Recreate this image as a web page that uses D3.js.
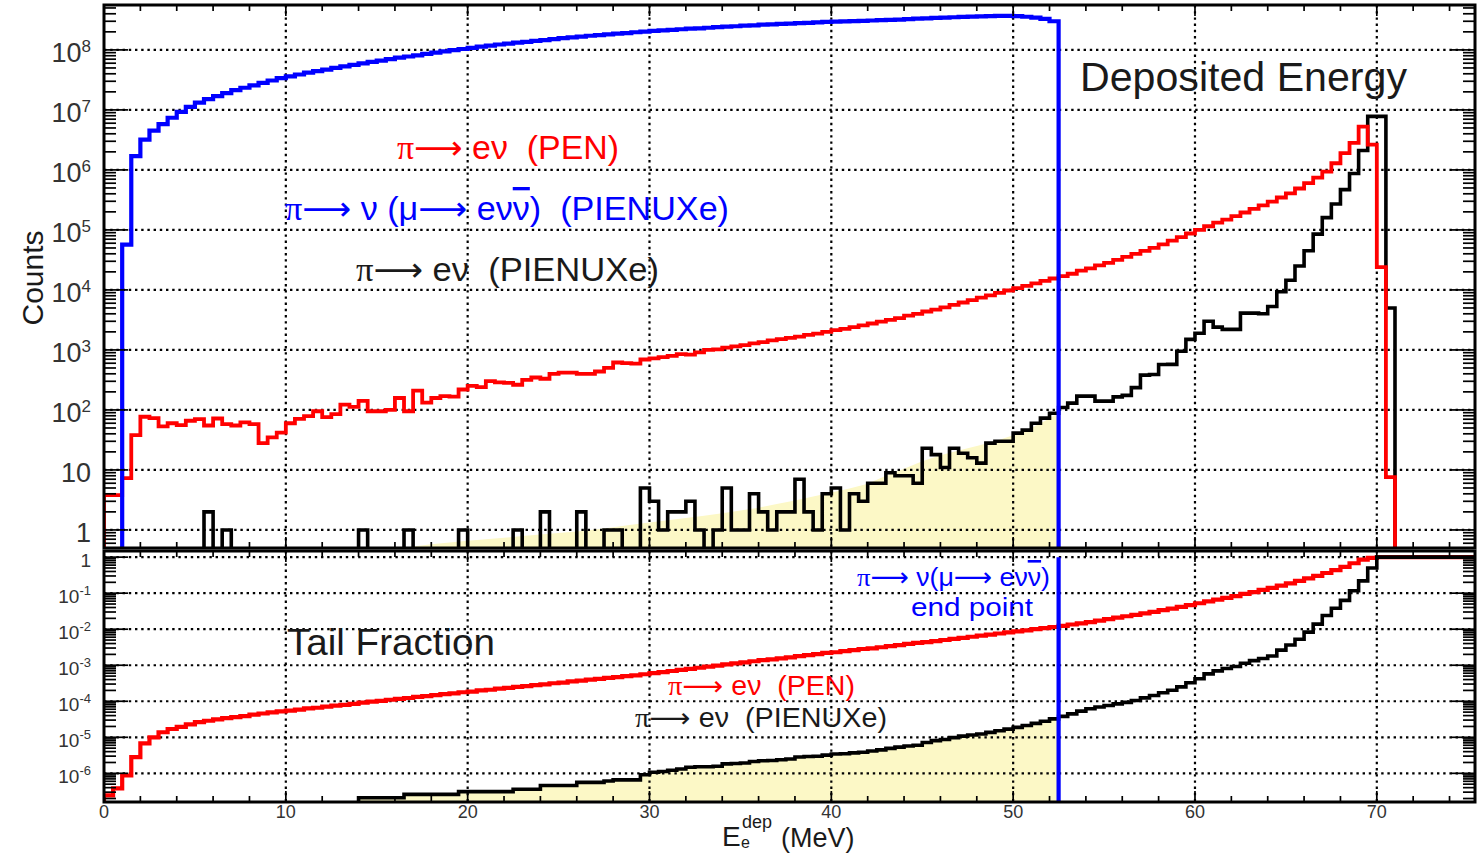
<!DOCTYPE html>
<html>
<head>
<meta charset="utf-8">
<script src="https://cdn.jsdelivr.net/npm/d3@7"></script>
<style>
  html, body { margin: 0; padding: 0; background: #fff; }
  svg { display: block; font-family: "Liberation Sans", Arial, Helvetica, sans-serif; }
  text { white-space: pre; }
</style>
</head>
<body>
<svg id="chart" width="1481" height="853"></svg>
<script>
// ---------------------------------------------------------------------------
// Data: deposited-energy histograms, 0.5 MeV bins starting at 0 MeV
// ---------------------------------------------------------------------------
const binWidth = 0.5;           // MeV
const energyMax = 75.4;         // MeV, right end of the axis
const muonEndPoint = 52.5;      // MeV, pi -> nu (mu -> e nu nubar) end point

// pi -> nu (mu -> e nu nubar), PIENUXe
const muDecayCounts = [
  0, 0, 5.7e4, 1.7e6, 3.2e6, 4.5e6, 5.8e6, 7.4e6, 9.3e6, 1.12e7,
  1.32e7, 1.51e7, 1.70e7, 1.91e7, 2.14e7, 2.34e7, 2.57e7, 2.82e7, 3.09e7, 3.39e7,
  3.63e7, 3.89e7, 4.17e7, 4.42e7, 4.68e7, 5.01e7, 5.31e7, 5.62e7, 5.96e7, 6.31e7,
  6.61e7, 7.0e7, 7.41e7, 7.76e7, 8.13e7, 8.61e7, 9.02e7, 9.44e7, 9.89e7, 1.035e8,
  1.08e8, 1.135e8, 1.175e8, 1.23e8, 1.27e8, 1.32e8, 1.36e8, 1.41e8, 1.46e8, 1.51e8,
  1.57e8, 1.62e8, 1.66e8, 1.72e8, 1.76e8, 1.82e8, 1.86e8, 1.91e8, 1.97e8, 2.02e8,
  2.07e8, 2.11e8, 2.16e8, 2.21e8, 2.26e8, 2.29e8, 2.34e8, 2.40e8, 2.45e8, 2.48e8,
  2.54e8, 2.57e8, 2.63e8, 2.66e8, 2.72e8, 2.75e8, 2.79e8, 2.82e8, 2.88e8, 2.92e8,
  2.95e8, 2.99e8, 3.02e8, 3.05e8, 3.09e8, 3.13e8, 3.16e8, 3.20e8, 3.26e8, 3.31e8,
  3.36e8, 3.41e8, 3.46e8, 3.50e8, 3.54e8, 3.58e8, 3.62e8, 3.66e8, 3.70e8, 3.70e8,
  3.66e8, 3.57e8, 3.46e8, 3.30e8, 3.0e8
];

// pi -> e nu, PEN
const penCounts = [
  3.8, 3.8, 7.3, 38, 77, 73, 53, 60, 56, 66,
  70, 55, 72, 58, 55, 62, 58, 28, 35, 42,
  60, 71, 79, 95, 76, 85, 123, 112, 141, 95,
  95, 100, 158, 95, 209, 132, 158, 170, 166, 219,
  251, 240, 302, 288, 282, 263, 316, 347, 331, 398,
  417, 417, 398, 398, 437, 501, 617, 603, 589, 692,
  724, 759, 794, 851, 832, 912, 1000, 1023, 1096, 1148,
  1202, 1288, 1349, 1445, 1514, 1585, 1660, 1778, 1862, 1995,
  2138, 2239, 2399, 2570, 2754, 2951, 3162, 3388, 3715, 3981,
  4365, 4677, 5129, 5623, 6166, 6761, 7413, 8128, 8913, 9772,
  1.07e4, 1.17e4, 1.29e4, 1.41e4, 1.55e4, 1.70e4, 1.86e4, 2.09e4, 2.29e4, 2.57e4,
  2.82e4, 3.16e4, 3.55e4, 3.98e4, 4.47e4, 5.01e4, 5.75e4, 6.61e4, 7.59e4, 8.71e4,
  1.0e5, 1.15e5, 1.32e5, 1.48e5, 1.70e5, 1.95e5, 2.24e5, 2.57e5, 2.95e5, 3.47e5,
  4.07e5, 4.90e5, 6.03e5, 7.41e5, 9.33e5, 1.29e6, 1.91e6, 2.82e6, 5.25e6, 2.63e6,
  2.4e4, 7.6
];

// pi -> e nu, PIENUXe
const pienuCounts = [
  0, 0, 0, 0, 0, 0, 0, 0, 0, 0,
  0, 2, 0, 1, 0, 0, 0, 0, 0, 0,
  0, 0, 0, 0, 0, 0, 0, 0, 1, 0,
  0, 0, 0, 1, 0, 0, 0, 0, 0, 1,
  0, 0, 0, 0, 0, 1, 0, 0, 2, 0,
  0, 0, 2, 0, 0, 1, 1, 0, 0, 5,
  3, 1, 2, 2, 3, 1, 0, 1, 5, 1,
  1, 4, 2, 1, 2, 2, 7, 2, 1, 4,
  5, 1, 4, 3, 6, 6, 9, 8, 8, 6,
  23, 18, 11, 23, 19, 16, 13, 28, 30, 30,
  41, 46, 60, 73, 88, 110, 130, 170, 170, 140,
  140, 165, 175, 235, 380, 390, 570, 575, 950, 1500,
  1900, 3000, 2400, 2200, 2200, 4100, 4100, 4000, 5300, 9300,
  1.45e4, 2.5e4, 4.5e4, 8.5e4, 1.6e5, 2.7e5, 4.7e5, 8.7e5, 2.1e6, 7.8e6,
  7.8e6, 5000
];

// Shaded low-energy tail under the PIENUXe spectrum (energy, counts)
const tailShadeEnergy = [16, 17, 18, 19, 20, 21, 22, 23, 24, 25, 26, 27, 28, 29, 30,
  31, 32, 33, 34, 35, 36, 37, 38, 39, 40, 41, 42, 43, 44, 45, 46, 47, 48, 49, 50, 51, 52, 52.5];
const tailShadeCounts = [0.45, 0.53, 0.58, 0.62, 0.66, 0.70, 0.74, 0.79, 0.84, 0.89, 0.94, 1.02, 1.11, 1.22, 1.33,
  1.45, 1.58, 1.73, 1.9, 2.1, 2.35, 2.7, 3.1, 3.6, 4.2, 4.9, 5.9, 8.0, 10.5, 14, 17.5, 21, 25, 30, 38, 50, 72, 90];

// Tail fraction (fraction of events below each energy bin)
const penTailFraction = [
  2.45e-7, 3.8e-7, 8.7e-7, 2.8e-6, 6.8e-6, 1.0e-5, 1.38e-5, 1.7e-5, 1.95e-5, 2.29e-5,
  2.63e-5, 2.88e-5, 3.16e-5, 3.39e-5, 3.63e-5, 3.89e-5, 4.27e-5, 4.57e-5, 4.9e-5, 5.25e-5,
  5.5e-5, 5.89e-5, 6.31e-5, 6.61e-5, 7.08e-5, 7.59e-5, 7.94e-5, 8.51e-5, 9.12e-5, 9.77e-5,
  1.02e-4, 1.10e-4, 1.17e-4, 1.23e-4, 1.32e-4, 1.38e-4, 1.48e-4, 1.58e-4, 1.66e-4, 1.78e-4,
  1.86e-4, 2.0e-4, 2.09e-4, 2.24e-4, 2.34e-4, 2.51e-4, 2.63e-4, 2.82e-4, 2.95e-4, 3.16e-4,
  3.31e-4, 3.55e-4, 3.72e-4, 3.98e-4, 4.17e-4, 4.47e-4, 4.68e-4, 5.01e-4, 5.25e-4, 5.62e-4,
  6.03e-4, 6.46e-4, 6.92e-4, 7.41e-4, 7.94e-4, 8.51e-4, 9.12e-4, 9.77e-4, 1.05e-3, 1.12e-3,
  1.2e-3, 1.29e-3, 1.38e-3, 1.45e-3, 1.55e-3, 1.66e-3, 1.78e-3, 1.91e-3, 2.04e-3, 2.19e-3,
  2.29e-3, 2.45e-3, 2.63e-3, 2.82e-3, 2.95e-3, 3.16e-3, 3.39e-3, 3.63e-3, 3.89e-3, 4.17e-3,
  4.37e-3, 4.68e-3, 5.01e-3, 5.37e-3, 5.75e-3, 6.17e-3, 6.61e-3, 7.08e-3, 7.59e-3, 8.13e-3,
  8.71e-3, 9.33e-3, 1.0e-2, 1.07e-2, 1.15e-2, 1.23e-2, 1.35e-2, 1.45e-2, 1.58e-2, 1.74e-2,
  1.91e-2, 2.09e-2, 2.29e-2, 2.51e-2, 2.75e-2, 3.02e-2, 3.39e-2, 3.72e-2, 4.17e-2, 4.68e-2,
  5.25e-2, 5.89e-2, 6.61e-2, 7.41e-2, 8.32e-2, 9.55e-2, 0.107, 0.123, 0.141, 0.162,
  0.186, 0.219, 0.257, 0.302, 0.363, 0.437, 0.537, 0.676, 0.851, 0.955,
  1, 1, 1, 1, 1, 1, 1, 1, 1, 1, 1
];

const pienuTailFraction = [
  0, 0, 0, 0, 0, 0, 0, 0, 0, 0,
  0, 1.0e-7, 1.0e-7, 1.5e-7, 1.5e-7, 1.5e-7, 1.5e-7, 1.5e-7, 1.5e-7, 1.5e-7,
  1.5e-7, 1.5e-7, 1.5e-7, 1.5e-7, 1.5e-7, 1.5e-7, 1.5e-7, 1.5e-7, 2.1e-7, 2.1e-7,
  2.1e-7, 2.1e-7, 2.1e-7, 2.6e-7, 2.6e-7, 2.6e-7, 2.6e-7, 2.6e-7, 2.6e-7, 3.1e-7,
  3.1e-7, 3.1e-7, 3.1e-7, 3.1e-7, 3.1e-7, 3.6e-7, 3.6e-7, 3.6e-7, 4.6e-7, 4.6e-7,
  4.6e-7, 4.6e-7, 5.6e-7, 5.6e-7, 5.6e-7, 6.1e-7, 6.6e-7, 6.6e-7, 6.6e-7, 9.1e-7,
  1.07e-6, 1.12e-6, 1.22e-6, 1.32e-6, 1.47e-6, 1.52e-6, 1.52e-6, 1.57e-6, 1.83e-6, 1.88e-6,
  1.93e-6, 2.13e-6, 2.23e-6, 2.28e-6, 2.39e-6, 2.49e-6, 2.84e-6, 2.94e-6, 2.99e-6, 3.2e-6,
  3.45e-6, 3.5e-6, 3.7e-6, 3.86e-6, 4.16e-6, 4.47e-6, 4.92e-6, 5.33e-6, 5.74e-6, 6.04e-6,
  7.2e-6, 8.1e-6, 8.7e-6, 9.8e-6, 1.08e-5, 1.16e-5, 1.23e-5, 1.37e-5, 1.52e-5, 1.68e-5,
  1.89e-5, 2.12e-5, 2.43e-5, 2.8e-5, 3.25e-5, 3.81e-5, 4.47e-5, 5.33e-5, 6.2e-5, 6.9e-5,
  7.6e-5, 8.45e-5, 9.3e-5, 1.05e-4, 1.24e-4, 1.44e-4, 1.73e-4, 2.02e-4, 2.5e-4, 3.26e-4,
  4.23e-4, 5.75e-4, 6.97e-4, 8.1e-4, 9.2e-4, 1.13e-3, 1.34e-3, 1.54e-3, 1.81e-3, 2.63e-3,
  3.63e-3, 5.25e-3, 8.3e-3, 1.38e-2, 2.4e-2, 3.8e-2, 6.3e-2, 0.117, 0.219, 0.5,
  1, 1, 1, 1, 1, 1, 1, 1, 1, 1, 1
];

// Axis ticks and labels
const energyTickLabels = [0, 10, 20, 30, 40, 50, 60, 70];
const countTickExponents = [0, 1, 2, 3, 4, 5, 6, 7, 8];
const fractionTickExponents = [0, -1, -2, -3, -4, -5, -6];

// ---------------------------------------------------------------------------
// Layout & scales
// ---------------------------------------------------------------------------
const plotL = 104, plotR = 1475;
const topP = { y0: 5, y1: 548 };
const botP = { y0: 551, y1: 802 };

const x = d3.scaleLinear().domain([0, energyMax]).range([plotL, plotR]);
const yTop = d3.scaleLog().domain([0.5, 5.6e8]).range([topP.y1, topP.y0]);
const yBot = d3.scaleLog().domain([1.6e-7, 1.48]).range([botP.y1, botP.y0]);

const COL = { pen: "#ff0000", mu: "#0000ff", pienu: "#000000", shade: "#fcf8c6", text: "#1a1a1a", tick: "#333" };

const svg = d3.select("#chart");
svg.append("rect").attr("width", 1481).attr("height", 853).attr("fill", "#fff");

const defs = svg.append("defs");
[["clipTop", topP], ["clipBot", botP]].forEach(([id, p]) => {
  defs.append("clipPath").attr("id", id)
    .append("rect").attr("x", plotL).attr("y", p.y0)
    .attr("width", plotR - plotL).attr("height", p.y1 - p.y0);
});

// step outline of a binned histogram; empty bins sit on the floor value
function stepPoints(values, floorV) {
  const pts = [[0, floorV]];
  values.forEach((v, i) => {
    const lo = i * binWidth, hi = lo + binWidth, vv = v > 0 ? v : floorV;
    pts.push([lo, vv], [hi, vv]);
  });
  pts.push([values.length * binWidth, floorV]);
  return pts;
}

function drawGrid(g, yScale, yDecades, p) {
  const grid = g.append("g").attr("stroke", "#000").attr("stroke-width", 2.2)
    .attr("stroke-dasharray", "2.4,3.8").attr("fill", "none");
  energyTickLabels.filter(e => e > 0).forEach(e => {
    grid.append("line").attr("x1", x(e)).attr("x2", x(e)).attr("y1", p.y0).attr("y2", p.y1);
  });
  yDecades.forEach(d => {
    const yy = yScale(Math.pow(10, d));
    grid.append("line").attr("x1", plotL).attr("x2", plotR).attr("y1", yy).attr("y2", yy);
  });
}

function histLine(g, values, yScale, floorV, color, width) {
  const line = d3.line().x(d => x(d[0])).y(d => yScale(d[1]));
  g.append("path").attr("d", line(stepPoints(values, floorV)))
    .attr("fill", "none").attr("stroke", color).attr("stroke-width", width)
    .attr("stroke-linejoin", "miter").attr("stroke-linecap", "butt");
}

// ---------------------------------------------------------------------------
// Upper panel: deposited energy
// ---------------------------------------------------------------------------
const gTop = svg.append("g").attr("clip-path", "url(#clipTop)");

gTop.append("path")
  .datum(tailShadeEnergy.map((e, i) => [e, tailShadeCounts[i]]))
  .attr("d", d3.area().x(d => x(d[0])).y0(topP.y1 + 5).y1(d => yTop(d[1])))
  .attr("fill", COL.shade);

drawGrid(gTop, yTop, countTickExponents, topP);

histLine(gTop, pienuCounts, yTop, 0.2, COL.pienu, 3.6);
histLine(gTop, penCounts, yTop, 0.2, COL.pen, 3.8);
histLine(gTop, muDecayCounts, yTop, 0.2, COL.mu, 4.2);

// ---------------------------------------------------------------------------
// Lower panel: tail fraction
// ---------------------------------------------------------------------------
const gBot = svg.append("g").attr("clip-path", "url(#clipBot)");
const shadeBins = Math.round(muonEndPoint / binWidth);
gBot.append("path")
  .datum(stepPoints(pienuTailFraction.slice(0, shadeBins), 1e-9))
  .attr("d", d3.area().x(d => x(d[0])).y0(botP.y1 + 5).y1(d => yBot(d[1])))
  .attr("fill", COL.shade);

drawGrid(gBot, yBot, fractionTickExponents, botP);

histLine(gBot, penTailFraction, yBot, 1e-9, COL.pen, 4.2);
histLine(gBot, pienuTailFraction, yBot, 1e-9, COL.pienu, 3.6);

gBot.append("line")
  .attr("x1", x(muonEndPoint)).attr("x2", x(muonEndPoint))
  .attr("y1", yBot(1)).attr("y2", botP.y1)
  .attr("stroke", COL.mu).attr("stroke-width", 4.2);

// ---------------------------------------------------------------------------
// Frames and ticks
// ---------------------------------------------------------------------------
const axes = svg.append("g").attr("stroke", "#000").attr("fill", "none");

function logTicks(yScale) {
  const [lo, hi] = yScale.domain();
  for (let d = Math.floor(Math.log10(lo)); d <= Math.ceil(Math.log10(hi)); d++) {
    for (let k = 1; k <= 9; k++) {
      const v = k * Math.pow(10, d);
      if (v < lo || v > hi) continue;
      const yy = yScale(v), len = k === 1 ? 24 : 12;
      axes.append("line").attr("x1", plotL).attr("x2", plotL + len).attr("y1", yy).attr("y2", yy).attr("stroke-width", 1.7);
      axes.append("line").attr("x1", plotR).attr("x2", plotR - len).attr("y1", yy).attr("y2", yy).attr("stroke-width", 1.7);
    }
  }
}
function energyTicks(p) {
  for (let e = 0; e <= energyMax; e += 2) {
    const xx = x(e), len = e % 10 === 0 ? 11 : 6;
    axes.append("line").attr("x1", xx).attr("x2", xx).attr("y1", p.y1).attr("y2", p.y1 - len).attr("stroke-width", 1.7);
    axes.append("line").attr("x1", xx).attr("x2", xx).attr("y1", p.y0).attr("y2", p.y0 + len).attr("stroke-width", 1.7);
  }
}
logTicks(yTop);
logTicks(yBot);
energyTicks(topP);
energyTicks(botP);

[topP, botP].forEach(p => {
  axes.append("rect").attr("x", plotL).attr("y", p.y0)
    .attr("width", plotR - plotL).attr("height", p.y1 - p.y0).attr("stroke-width", 3);
});

// ---------------------------------------------------------------------------
// Tick labels
// ---------------------------------------------------------------------------
const labels = svg.append("g").attr("fill", COL.tick);

countTickExponents.forEach(ex => {
  const yy = yTop(Math.pow(10, ex));
  const t = labels.append("text").attr("x", 91).attr("y", yy + 12)
    .attr("text-anchor", "end").attr("font-size", 27);
  if (ex === 0) t.text("1");
  else if (ex === 1) t.text("10");
  else {
    t.append("tspan").text("10");
    t.append("tspan").attr("font-size", 17).attr("dy", -10).text(String(ex));
  }
});

fractionTickExponents.forEach(ex => {
  const yy = yBot(Math.pow(10, ex));
  const t = labels.append("text").attr("x", 91).attr("y", yy + 10)
    .attr("text-anchor", "end").attr("font-size", 19);
  if (ex === 0) t.text("1");
  else {
    t.append("tspan").text("10");
    t.append("tspan").attr("font-size", 13).attr("dy", -8).text(String(ex));
  }
});

energyTickLabels.forEach(e => {
  labels.append("text").attr("x", x(e)).attr("y", 818)
    .attr("text-anchor", "middle").attr("font-size", 18).text(String(e));
});

// Axis titles
const titles = svg.append("g").attr("fill", COL.text);
titles.append("text")
  .attr("transform", "translate(43,278) rotate(-90)")
  .attr("text-anchor", "middle").attr("font-size", 30).text("Counts");

const xt = titles.append("text").attr("font-size", 27);
xt.append("tspan").attr("x", 722).attr("y", 846).attr("font-size", 28).text("E");
xt.append("tspan").attr("x", 742).attr("y", 828).attr("font-size", 18).text("dep");
xt.append("tspan").attr("x", 741).attr("y", 848).attr("font-size", 16).text("e");
xt.append("tspan").attr("x", 781).attr("y", 847).text("(MeV)");

// ---------------------------------------------------------------------------
// Annotations (pi and the arrow use the symbol-like glyphs of other faces)
// ---------------------------------------------------------------------------
const PI = { t: "\u03c0", font: "Liberation Serif" };
const ARROW = { t: "\u27f6", font: "DejaVu Sans" };

function note(parts, xPos, yPos, size, width, color) {
  const t = svg.append("text").attr("x", xPos).attr("y", yPos)
    .attr("font-size", size).attr("fill", color)
    .attr("textLength", width).attr("lengthAdjust", "spacingAndGlyphs");
  parts.forEach(p => {
    const s = t.append("tspan").text(p.t);
    if (p.font) s.attr("font-family", p.font);
    if (p.bar) s.style("text-decoration", "overline");
  });
  return t;
}

note([{ t: "Deposited Energy" }], 1080, 91, 40, 327, COL.text);
note([PI, ARROW, { t: " e\u03bd  (PEN)" }], 397, 159, 33, 222, COL.pen);
note([PI, ARROW, { t: " \u03bd (\u03bc" }, ARROW, { t: " e\u03bd" }, { t: "\u03bd", bar: true }, { t: ")  (PIENUXe)" }], 285, 220, 33, 444, COL.mu);
note([PI, ARROW, { t: " e\u03bd  (PIENUXe)" }], 356, 281, 33, 303, COL.text);

note([{ t: "Tail Fraction" }], 287, 655, 37, 208, COL.text);
note([PI, ARROW, { t: " \u03bd(\u03bc" }, ARROW, { t: " e\u03bd" }, { t: "\u03bd", bar: true }, { t: ")" }], 857, 586, 26, 193, COL.mu);
note([{ t: "end point" }], 911, 616, 26, 122, COL.mu);
note([PI, ARROW, { t: " e\u03bd  (PEN)" }], 668, 695, 27, 187, COL.pen);
note([PI, ARROW, { t: " e\u03bd  (PIENUXe)" }], 635, 727, 27, 252, COL.text);
</script>
</body>
</html>
